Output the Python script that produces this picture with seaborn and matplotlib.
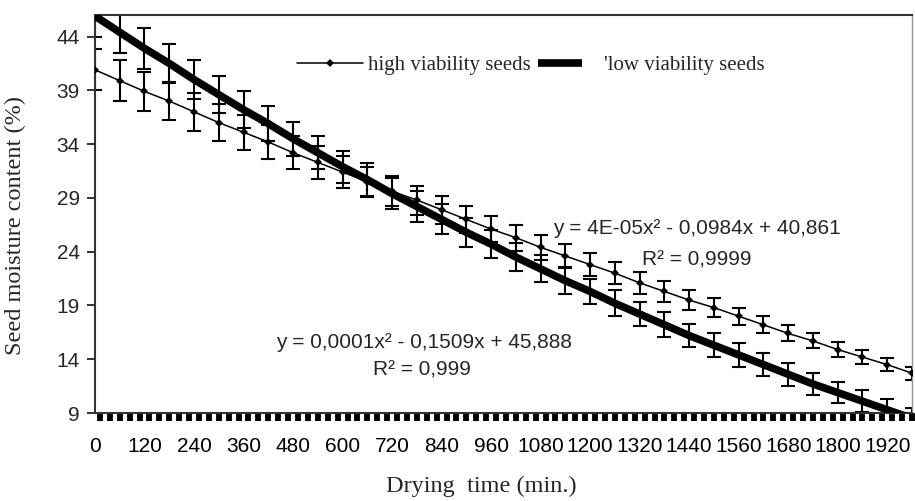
import numpy as np
import pandas as pd
import seaborn as sns
import matplotlib.pyplot as plt
from matplotlib.lines import Line2D

# drying time (min.), one reading every 60 min
drying_time = [0, 60, 120, 180, 240, 300, 360, 420, 480, 540, 600, 660,
               720, 780, 840, 900, 960, 1020, 1080, 1140, 1200, 1260, 1320,
               1380, 1440, 1500, 1560, 1620, 1680, 1740, 1800, 1860, 1920, 1980]

# seed moisture content (%)
high_viability = [40.9, 39.9, 38.9, 38.0, 37.0, 36.0, 35.1, 34.2, 33.2, 32.3,
                  31.4, 30.5, 29.6, 28.8, 27.9, 27.0, 26.1, 25.3, 24.4, 23.6,
                  22.8, 22.0, 21.1, 20.3, 19.5, 18.8, 18.0, 17.2, 16.4, 15.7,
                  14.9, 14.2, 13.5, 12.7]
high_err = [1.9, 1.9, 1.85, 1.8, 1.75, 1.7, 1.65, 1.6, 1.55, 1.5, 1.45, 1.4,
            1.4, 1.35, 1.3, 1.25, 1.2, 1.2, 1.15, 1.1, 1.05, 1.0, 1.0, 0.95,
            0.9, 0.85, 0.8, 0.8, 0.75, 0.7, 0.7, 0.65, 0.6, 0.6]

low_viability = [45.9, 44.4, 42.9, 41.5, 40.0, 38.6, 37.2, 35.9, 34.5, 33.2,
                 31.9, 30.7, 29.4, 28.2, 27.0, 25.8, 24.7, 23.5, 22.4, 21.3,
                 20.3, 19.2, 18.2, 17.2, 16.2, 15.3, 14.4, 13.5, 12.6, 11.7,
                 10.9, 10.1, 9.3, 8.5]
low_err = [1.9, 1.9, 1.9, 1.85, 1.8, 1.75, 1.7, 1.65, 1.6, 1.55, 1.5, 1.5,
           1.45, 1.4, 1.4, 1.35, 1.3, 1.3, 1.25, 1.25, 1.2, 1.2, 1.15, 1.15,
           1.1, 1.1, 1.1, 1.05, 1.05, 1.0, 1.0, 1.0, 1.0, 1.0]

y_ticks = [9, 14, 19, 24, 29, 34, 39, 44]
x_ticks = list(range(0, 1921, 120))

df = pd.DataFrame({"Drying time": drying_time,
                   "high": high_viability, "high_err": high_err,
                   "low": low_viability, "low_err": low_err})

sns.set_style("ticks")
plt.rcParams["font.family"] = ["Liberation Sans", "DejaVu Sans"]

fig = plt.figure(figsize=(9.15, 5.01), dpi=100)
ax = fig.add_axes([0.1038, 0.1756, 0.8929, 0.7944])

# low viability: thick line
sns.lineplot(data=df, x="Drying time", y="low", ax=ax, color="black",
             linewidth=5.5, solid_capstyle="butt", legend=False, zorder=3)
ax.errorbar(df["Drying time"], df["low"], yerr=df["low_err"], fmt="none",
            ecolor="black", elinewidth=1.5, capsize=5, capthick=1.5, zorder=2)

# high viability: thin line with diamonds
sns.lineplot(data=df, x="Drying time", y="high", ax=ax, color="black",
             linewidth=1.1, marker="D", markersize=4.5, markeredgewidth=0,
             legend=False, zorder=4)
ax.errorbar(df["Drying time"], df["high"], yerr=df["high_err"], fmt="none",
            ecolor="black", elinewidth=1.5, capsize=5, capthick=1.5, zorder=2)

ax.set_xlim(0, 1980)
ax.set_ylim(9, 46)
ax.set_xticks(x_ticks)
ax.set_xticklabels([str(t) for t in x_ticks], fontsize=15)
ax.set_xticks(np.arange(12, 1990, 24), minor=True)
ax.set_yticks(y_ticks)
ax.set_yticklabels([str(v) for v in y_ticks], fontsize=15)

ax.tick_params(axis="x", which="major", length=0, pad=17, colors="black")
ax.tick_params(axis="x", which="minor", length=6, width=4.2, direction="out",
               color="black")
ax.tick_params(axis="y", which="major", length=6, width=1.4, pad=5,
               color="#333333")

for side in ["left", "top", "bottom"]:
    ax.spines[side].set_color("#333333")
    ax.spines[side].set_linewidth(1.5)
ax.spines["right"].set_color("#999999")
ax.spines["right"].set_linewidth(1)

ax.set_xlabel("Drying  time (min.)", family=["Liberation Serif"], fontsize=17.5)
ax.set_ylabel("Seed moisture content (%)", family=["Liberation Serif"],
              fontsize=17.5)
ax.xaxis.set_label_coords(0.4725, -0.158)
ax.yaxis.set_label_coords(-0.085, 0.47)

# trend line equations
ax.text(0.737, 0.463, "y = 4E-05x² - 0,0984x + 40,861", transform=ax.transAxes,
        ha="center", va="center", fontsize=15)
ax.text(0.737, 0.385, "R² = 0,9999", transform=ax.transAxes,
        ha="center", va="center", fontsize=15)
ax.text(0.403, 0.176, "y = 0,0001x² - 0,1509x + 45,888", transform=ax.transAxes,
        ha="center", va="center", fontsize=15)
ax.text(0.4, 0.108, "R² = 0,999", transform=ax.transAxes,
        ha="center", va="center", fontsize=15)

# legend
high_handle = Line2D([], [], color="black", linewidth=1.1, marker="D",
                     markersize=4.5, markeredgewidth=0)
low_handle = Line2D([], [], color="black", linewidth=5.5, solid_capstyle="butt")
serif = {"family": "Liberation Serif", "size": 15}
leg1 = ax.legend([high_handle], ["high viability seeds"], loc="center left",
                 bbox_to_anchor=(0.247, 0.874), frameon=False, borderpad=0,
                 borderaxespad=0, handlelength=3.2, handletextpad=0.2,
                 prop=serif)
ax.add_artist(leg1)
ax.legend([low_handle], ["'low viability seeds"], loc="center left",
          bbox_to_anchor=(0.542, 0.874), frameon=False, borderpad=0,
          borderaxespad=0, handlelength=2.1, handletextpad=1.1, prop=serif)

ax.set_facecolor("white")
fig.patch.set_facecolor("white")
fig.savefig("out.png", dpi=100)
